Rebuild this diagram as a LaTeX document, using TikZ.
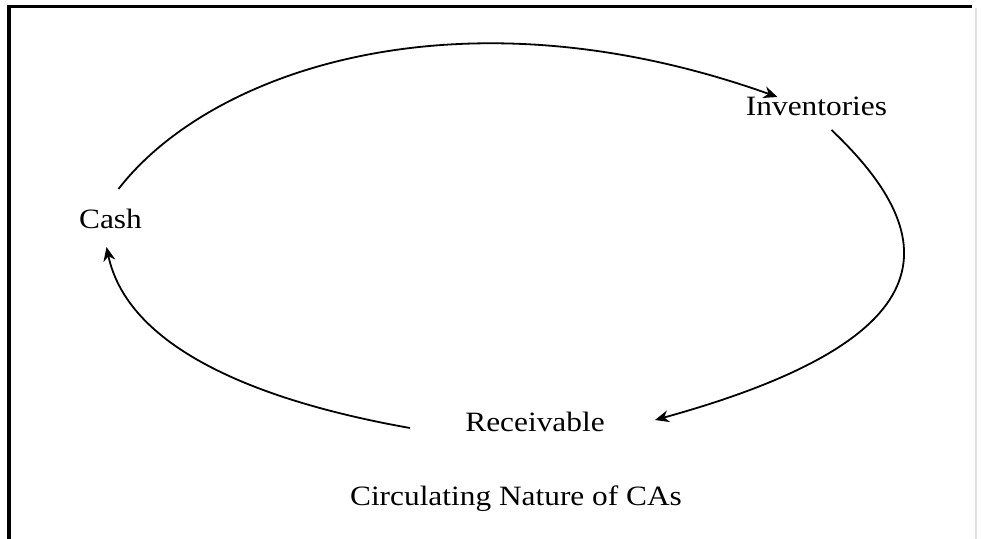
\documentclass[tikz,border=0pt]{standalone}
\usepackage{fontspec}
\setmainfont{Liberation Serif}[FakeStretch=1.12]
\usetikzlibrary{arrows.meta,calc}

\begin{document}
\begin{tikzpicture}[x=0.5pt, y=-0.5pt, >={Stealth[length=7pt,width=6pt]},
    stage/.style={anchor=base, inner sep=0pt, font=\fontsize{14}{17}\selectfont},
    flow/.style={->, line width=0.9pt}]
    \useasboundingbox (0,0) rectangle (982,539);
    % Frame
    \draw[line width=1.6pt] (9,539) -- (9,6.5) -- (972,6.5);
    \draw[black!12, line width=0.8pt] (976,8) -- (976,539);

    % Stages of the cycle
    \node[stage] (cash) at (110.5,229) {Cash};
    \node[stage] (inv) at (816.5,116) {Inventories};
    \node[stage] (rec) at (535,432) {Receivable};
    \node[stage] (title) at (516,506) {Circulating Nature of CAs};

    % Arrows round the cycle
    \draw[flow] ($(cash.base)+(8,-40)$) .. controls +(92,-119) and +(-317,-113) .. ($(inv.base)+(-39,-19)$);
    \draw[flow] ($(inv.base)+(15,14)$) .. controls +(117,111) and +(290,-80) .. ($(rec.base)+(120,-12)$);
    \draw[flow] ($(rec.base)+(-125,-4)$) .. controls +(-158,-28) and +(21,99) .. ($(cash.base)+(-4,18)$);
\end{tikzpicture}
\end{document}
